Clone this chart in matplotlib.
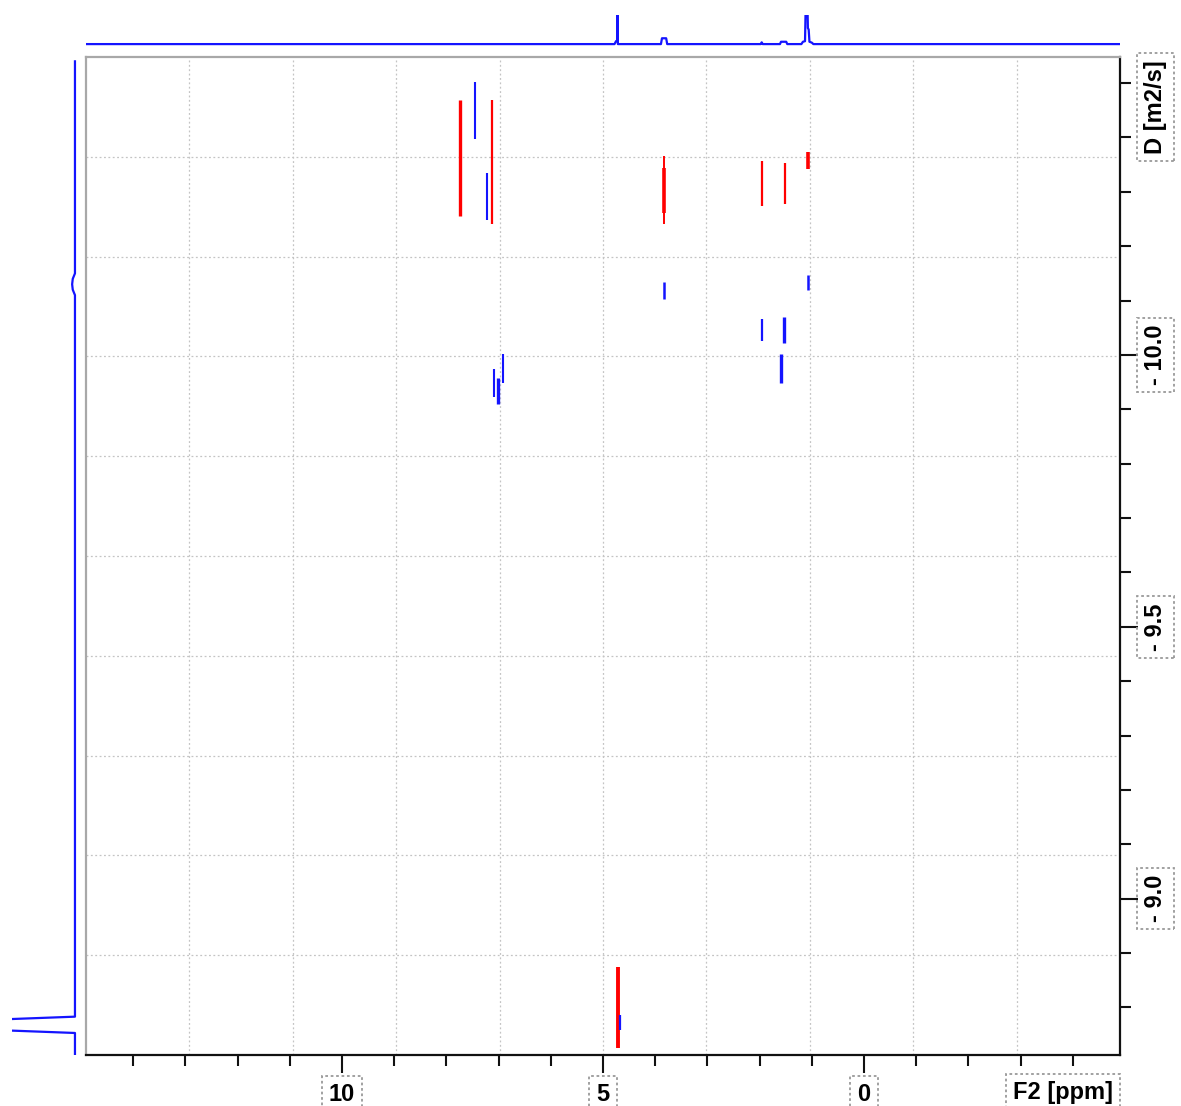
import matplotlib
matplotlib.use("Agg")
import matplotlib.pyplot as plt

plt.rcParams["font.family"] = ["Liberation Sans", "DejaVu Sans"]

# ---- data (F2 in ppm, log D in m2/s) ----
red_ppm = [7.74, 7.13, 3.83, 3.83, 1.95, 1.51, 1.07, 4.71]
red_lo = [-10.468, -10.468, -10.366, -10.344, -10.357, -10.353, -10.374, -8.875]
red_hi = [-10.256, -10.240, -10.240, -10.261, -10.274, -10.278, -10.342, -8.726]
red_lw = [2.4, 1.6, 1.4, 2.6, 1.6, 1.6, 2.6, 2.8]

blue_ppm = [7.46, 7.22, 3.83, 1.07, 1.95, 1.53, 1.59, 7.09, 7.01, 6.92, 4.67]
blue_lo = [-10.502, -10.335, -10.134, -10.147, -10.066, -10.070, -10.002,
           -9.974, -9.958, -10.002, -8.786]
blue_hi = [-10.397, -10.248, -10.103, -10.120, -10.026, -10.022, -9.949,
           -9.923, -9.910, -9.949, -8.758]
blue_lw = [1.5, 1.5, 1.8, 1.8, 1.6, 2.4, 2.4, 1.5, 2.4, 1.5, 1.6]

# 1D projections
top_ppm = [14.90, 4.78, 4.75, 4.73, 4.725, 4.715, 4.70, 3.89, 3.87, 3.79, 3.77,
           1.98, 1.96, 1.94, 1.61, 1.59, 1.49, 1.47, 1.20, 1.17, 1.13, 1.11,
           1.09, 1.075, 1.06, 1.045, 1.00, 0.97, -4.90]
top_int = [0, 0, 0.10, 0.12, 2.0, 0.0, 0, 0, 0.20, 0.20, 0,
           0, 0.06, 0, 0, 0.08, 0.08, 0, 0, 0.08, 0.10, 2.0,
           2.0, 0.55, 0.50, 0.08, 0.05, 0, 0]

left_logd = [-10.54, -10.150, -10.140, -10.130, -10.120, -10.110,
             -8.783, -8.770, -8.766, -8.753, -8.7125]
left_int = [0, 0, 0.035, 0.045, 0.035, 0,
            0, 3.0, 3.0, 0, 0]

x_major = [10, 5, 0]
x_minor = list(range(14, -5, -1))
y_major = [-10.0, -9.5, -9.0]
y_major_labels = ["- 10.0", "- 9.5", "- 9.0"]
y_minor = [-10.5, -10.4, -10.3, -10.2, -10.1, -10.0, -9.9, -9.8, -9.7, -9.6,
           -9.5, -9.4, -9.3, -9.2, -9.1, -9.0, -8.9, -8.8]

XLIM = (14.904, -4.904)
YLIM = (-8.7125, -10.548)

W, H = 1181, 1106
fig = plt.figure(figsize=(W / 100, H / 100), dpi=100)

ax = fig.add_axes([86 / W, 51 / H, 1034 / W, 998 / H])
ax_top = fig.add_axes([86 / W, (H - 47) / H, 1034 / W, 32 / H])
ax_left = fig.add_axes([12 / W, 51 / H, 68 / W, 998 / H])

RED = "#ff0000"
BLUE = "#1414ff"
box = dict(boxstyle="square,pad=0.3", fc="none", ec="#9a9a9a", ls=(0, (1.5, 1.5)), lw=1.3)

# grid: ten equal divisions of the frame
for f in [i / 10 for i in range(1, 10)]:
    ax.plot([f, f], [0, 1], transform=ax.transAxes, color="#c4c4c4", lw=0.9, ls=(0, (1.5, 2)), zorder=0)
    ax.plot([0, 1], [f, f], transform=ax.transAxes, color="#c4c4c4", lw=0.9, ls=(0, (1.5, 2)), zorder=0)

for p, lo, hi, lw in zip(red_ppm, red_lo, red_hi, red_lw):
    ax.vlines(p, lo, hi, color=RED, lw=lw, zorder=3)
for p, lo, hi, lw in zip(blue_ppm, blue_lo, blue_hi, blue_lw):
    ax.vlines(p, lo, hi, color=BLUE, lw=lw, zorder=3)

ax.set_xlim(*XLIM)
ax.set_ylim(*YLIM)

for side in ["left", "top"]:
    ax.spines[side].set_color("#a8a8a8")
    ax.spines[side].set_linewidth(1.6)
for side in ["right", "bottom"]:
    ax.spines[side].set_color("#111111")
    ax.spines[side].set_linewidth(1.6)

ax.set_xticks(x_major)
ax.set_xticklabels([str(v) for v in x_major])
ax.set_xticks(x_minor, minor=True)
ax.yaxis.tick_right()
ax.set_yticks(y_major)
ax.set_yticklabels(y_major_labels)
ax.set_yticks(y_minor, minor=True)

ax.tick_params(axis="both", which="both", direction="out", width=1.5, color="#111111")
ax.tick_params(axis="both", which="major", length=13, labelsize=17)
ax.tick_params(axis="both", which="minor", length=8)
ax.tick_params(axis="x", which="major", pad=7)
ax.tick_params(axis="y", which="major", pad=4, labelrotation=90)

for t in ax.get_xticklabels():
    t.set_fontweight("bold")
    t.set_bbox(box)
for t in ax.get_yticklabels():
    t.set_fontweight("bold")
    t.set_verticalalignment("center")
    t.set_bbox(box)

fig.text(1013 / W, (H - 1081) / H, "F2 [ppm]", fontsize=17, fontweight="bold",
         ha="left", va="top", bbox=box)
fig.text(1144 / W, (H - 107) / H, "D [m2/s]", fontsize=17, fontweight="bold",
         rotation=90, ha="left", va="center", bbox=box)

# top projection
ax_top.plot(top_ppm, top_int, color=BLUE, lw=1.6)
ax_top.set_xlim(*XLIM)
ax_top.set_ylim(-0.1, 1.0)
ax_top.axis("off")

# left projection
ax_left.plot(left_int, left_logd, color=BLUE, lw=1.6)
ax_left.set_xlim(1.0, -0.08)
ax_left.set_ylim(*YLIM)
ax_left.axis("off")

fig.savefig("out.png", dpi=100)
